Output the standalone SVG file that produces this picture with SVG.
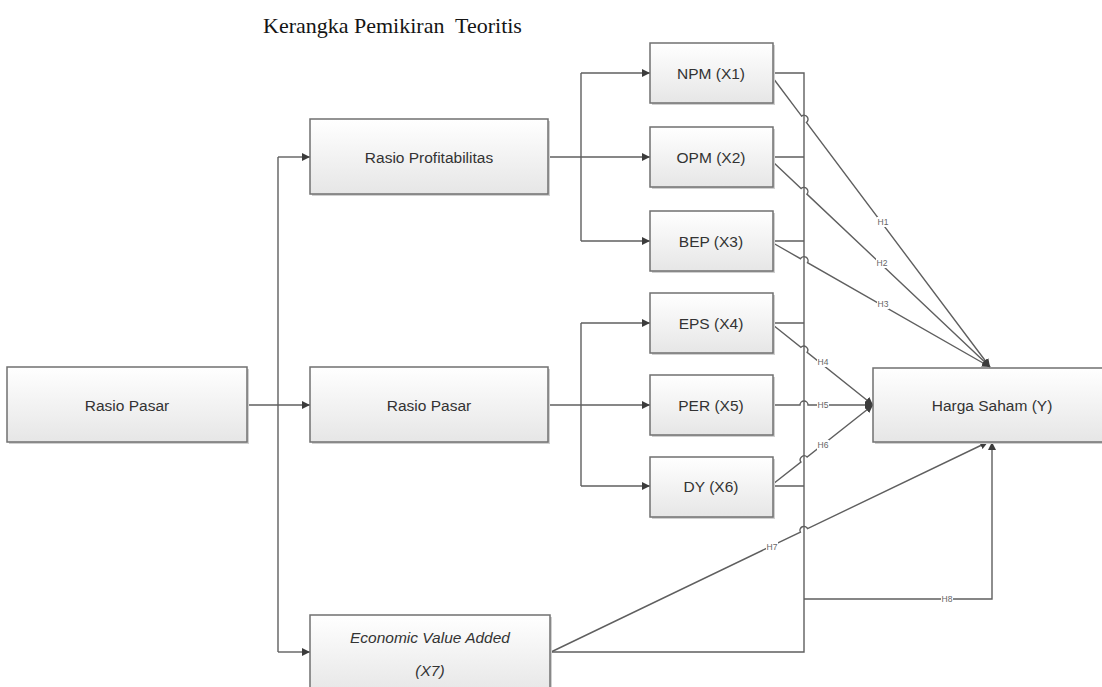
<svg xmlns="http://www.w3.org/2000/svg" width="1102" height="687" viewBox="0 0 1102 687">
<defs>
<linearGradient id="g" x1="0" y1="0" x2="0" y2="1">
<stop offset="0" stop-color="#ffffff"/>
<stop offset="1" stop-color="#e6e6e6"/>
</linearGradient>
<marker id="ar" viewBox="0 0 10 10" refX="10" refY="5" markerWidth="8" markerHeight="8" markerUnits="userSpaceOnUse" orient="auto">
<path d="M0,0 L10,5 L0,10 z" fill="#3c3c3c"/>
</marker>
<style>
.box{fill:url(#g);stroke:#707070;stroke-width:1.5}
.sh{fill:#d0d0d0;stroke:none}
.t{font-family:"Liberation Sans",Arial,sans-serif;font-size:15.5px;fill:#333;text-anchor:middle;dominant-baseline:central}
.ti{font-style:italic}
.c{fill:none;stroke:#5f5f5f;stroke-width:1.4}
.a{marker-end:url(#ar)}
.lb{font-family:"Liberation Sans",Arial,sans-serif;font-size:8.5px;fill:#666;text-anchor:middle;dominant-baseline:central}
.bg{fill:#fff}
.title{font-family:"Liberation Serif","Times New Roman",serif;font-size:22px;fill:#151515}
</style>
</defs>
<rect width="1102" height="687" fill="#fff"/>
<text class="title" x="263" y="33" xml:space="preserve">Kerangka Pemikiran  Teoritis</text>

<g id="connectors">
<path class="c a" d="M247,405 L310,405"/>
<path class="c" d="M278,157 L278,652"/>
<path class="c a" d="M278,157 L310,157"/>
<path class="c a" d="M278,652 L310,652"/>
<path class="c a" d="M548,157 L650,157"/>
<path class="c" d="M581,73 L581,241"/>
<path class="c a" d="M581,73 L650,73"/>
<path class="c a" d="M581,241 L650,241"/>
<path class="c a" d="M548,405 L650,405"/>
<path class="c" d="M581,323 L581,486"/>
<path class="c a" d="M581,323 L650,323"/>
<path class="c a" d="M581,486 L650,486"/>
<path class="c" d="M773,73 L804,73 L804,652 L550,652"/>
<path class="c" d="M773,157 L804,157 M773,241 L804,241 M773,323 L804,323 M773,486 L804,486"/>
<path class="c a" d="M773,78 L801.6,116.1 A4,4 0 0 1 806.4,122.5 L990,367"/>
<path class="c a" d="M773,162 L801.1,188.6 A4,4 0 0 1 806.9,194.1 L990,367"/>
<path class="c a" d="M773,243 L800.5,258.7 A4,4 0 0 1 807.5,262.7 L990,367"/>
<path class="c a" d="M773,325 L800.9,347.3 A4,4 0 0 1 807.1,352.3 L873,405"/>
<path class="c a" d="M773,405 L800,405 A4,4 0 0 1 808,405 L873,405"/>
<path class="c a" d="M773,484 L800.9,462 A4,4 0 0 1 807.1,457 L873,405"/>
<path class="c a" d="M551,652 L800.4,532.1 A4,4 0 0 1 807.6,528.6 L988,442"/>
<path class="c a" d="M804,599 L992,599 L992,442"/>
<rect class="bg" x="877" y="217" width="12" height="10"/><text class="lb" x="883" y="222">H1</text>
<rect class="bg" x="876" y="258" width="12" height="10"/><text class="lb" x="882" y="263">H2</text>
<rect class="bg" x="877" y="299" width="12" height="10"/><text class="lb" x="883" y="304">H3</text>
<rect class="bg" x="817" y="357" width="12" height="10"/><text class="lb" x="823" y="362">H4</text>
<rect class="bg" x="817" y="400" width="12" height="10"/><text class="lb" x="823" y="405">H5</text>
<rect class="bg" x="817" y="440" width="12" height="10"/><text class="lb" x="823" y="445">H6</text>
<rect class="bg" x="766" y="542" width="12" height="10"/><text class="lb" x="772" y="547">H7</text>
<rect class="bg" x="941" y="594" width="12" height="10"/><text class="lb" x="947" y="599">H8</text>
</g>

<g id="n-rasio-pasar-left"><rect class="sh" x="9" y="369" width="240" height="75"/><rect class="box" x="7" y="367" width="240" height="75"/><text class="t" x="127" y="405">Rasio Pasar</text></g>
<g id="n-rasio-profit"><rect class="sh" x="312" y="121" width="238" height="75"/><rect class="box" x="310" y="119" width="238" height="75"/><text class="t" x="429" y="157">Rasio Profitabilitas</text></g>
<g id="n-rasio-pasar"><rect class="sh" x="312" y="369" width="238" height="75"/><rect class="box" x="310" y="367" width="238" height="75"/><text class="t" x="429" y="405">Rasio Pasar</text></g>
<g id="n-eva"><rect class="sh" x="312" y="617" width="240" height="80"/><rect class="box" x="310" y="615" width="240" height="80"/><text class="t ti" x="430" y="637">Economic Value Added</text><text class="t ti" x="430" y="670">(X7)</text></g>
<g id="n-npm"><rect class="sh" x="652" y="45" width="123" height="60"/><rect class="box" x="650" y="43" width="123" height="60"/><text class="t" x="711" y="73">NPM (X1)</text></g>
<g id="n-opm"><rect class="sh" x="652" y="129" width="123" height="60"/><rect class="box" x="650" y="127" width="123" height="60"/><text class="t" x="711" y="157">OPM (X2)</text></g>
<g id="n-bep"><rect class="sh" x="652" y="213" width="123" height="60"/><rect class="box" x="650" y="211" width="123" height="60"/><text class="t" x="711" y="241">BEP (X3)</text></g>
<g id="n-eps"><rect class="sh" x="652" y="295" width="123" height="60"/><rect class="box" x="650" y="293" width="123" height="60"/><text class="t" x="711" y="323">EPS (X4)</text></g>
<g id="n-per"><rect class="sh" x="652" y="377" width="123" height="60"/><rect class="box" x="650" y="375" width="123" height="60"/><text class="t" x="711" y="405">PER (X5)</text></g>
<g id="n-dy"><rect class="sh" x="652" y="459" width="123" height="60"/><rect class="box" x="650" y="457" width="123" height="60"/><text class="t" x="711" y="486">DY (X6)</text></g>
<g id="n-harga"><rect class="sh" x="875" y="370" width="240" height="74"/><rect class="box" x="873" y="368" width="240" height="74"/><text class="t" x="992" y="405">Harga Saham (Y)</text></g>
</svg>
